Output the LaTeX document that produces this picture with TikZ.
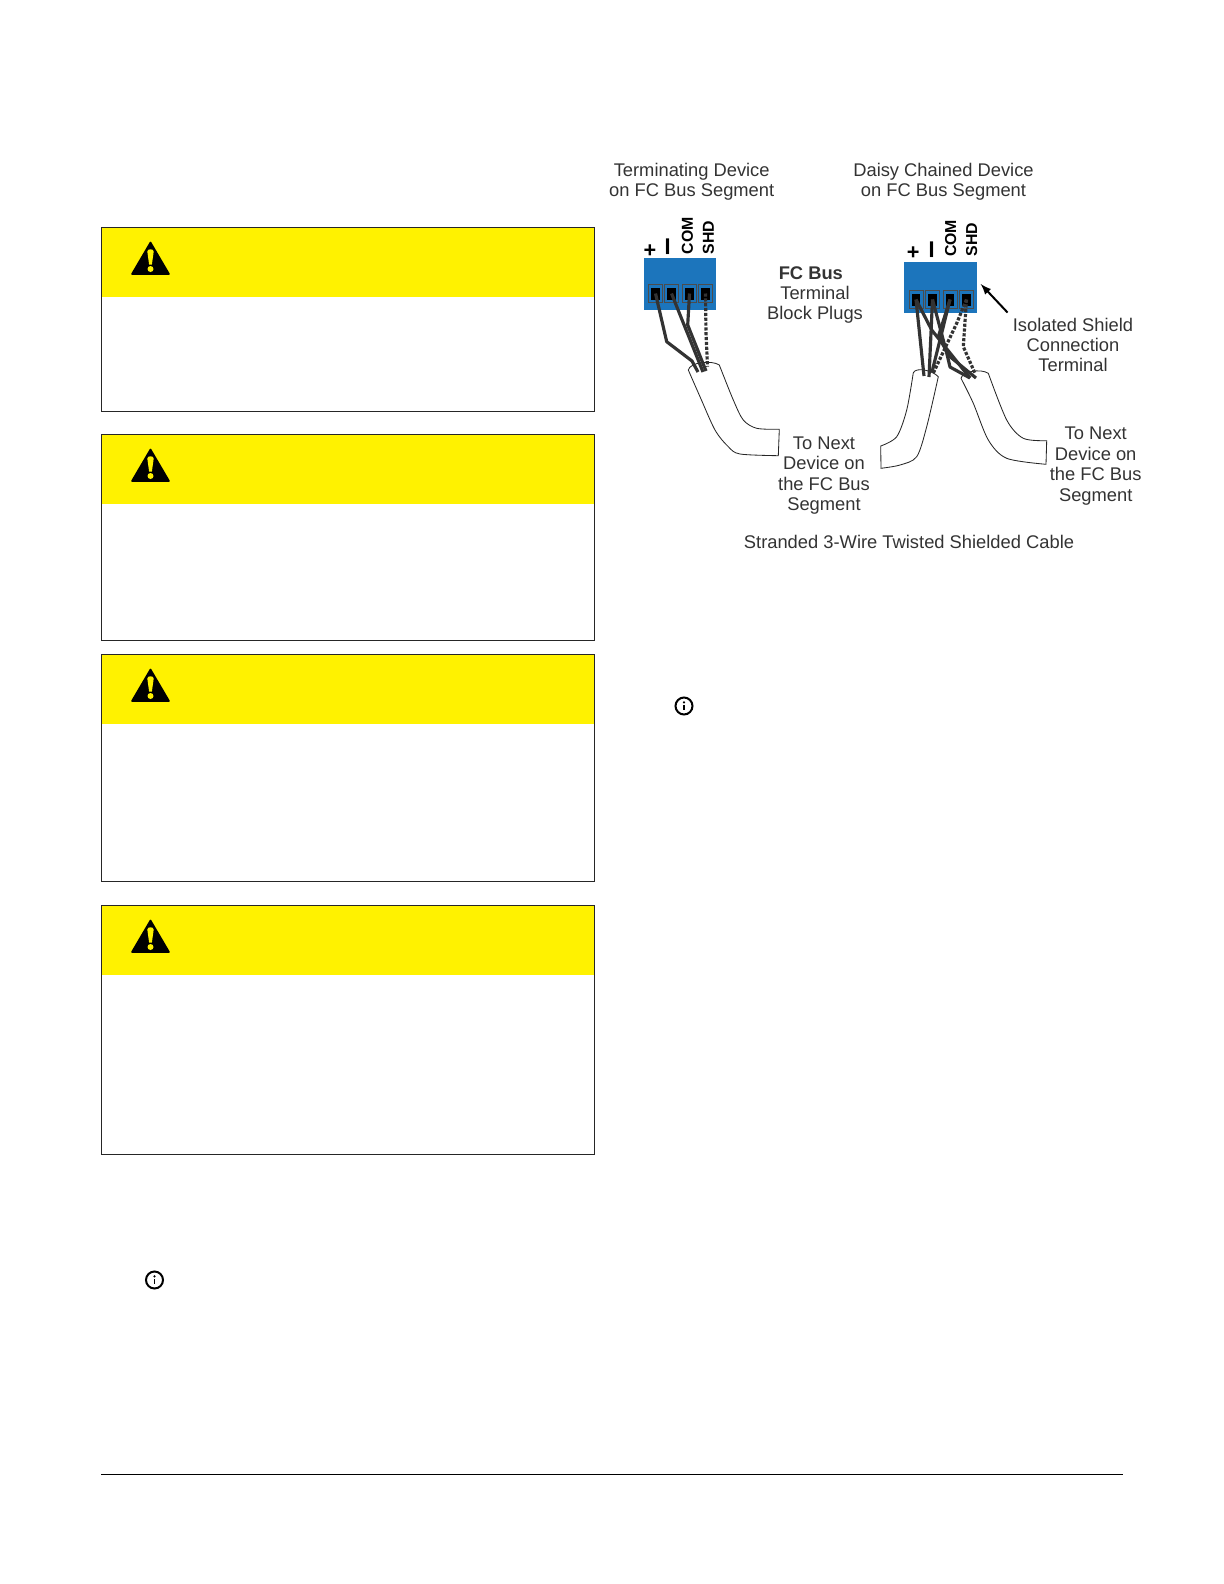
\documentclass[tikz,border=0pt]{standalone}
\usepackage{fontspec}
\setmainfont{Liberation Sans}
\usetikzlibrary{arrows.meta}
\definecolor{warnyellow}{HTML}{FFF200}
\definecolor{blockblue}{HTML}{1C75BC}
\definecolor{wiregray}{HTML}{333333}
\tikzset{
	panel/.style={draw=black!85, line width=0.6pt},
	label/.style={align=center, inner sep=0pt, font=\fontsize{11}{12.25}\selectfont, text=black!80},
	pinlabel/.style={inner sep=0pt, rotate=90, font=\fontsize{9.5}{11}\selectfont\bfseries},
	socket/.style={draw=black!70, fill=blockblue, line width=0.4pt, minimum width=8.4pt, minimum height=11pt, inner sep=0pt, path picture={\fill[black] ([xshift=1.6pt,yshift=1.4pt]path picture bounding box.south west) rectangle ([xshift=-1.6pt,yshift=-2.2pt]path picture bounding box.north east);}},
	wire/.style={draw=wiregray, line width=1.9pt, line join=round},
	shield/.style={draw=wiregray, line width=1.9pt, densely dotted},
	cable/.style={draw=black!85, fill=white, line width=0.5pt},
	warnsign/.pic={
		\fill[black, line join=round, draw=black, line width=1pt] (-18.5,15.5) -- (0,-16) -- (18.5,15.5) -- cycle;
		\fill[warnyellow] (-3.2,-7) .. controls (-3.2,-10) and (3.2,-10) .. (3.2,-7) -- (1.4,6) -- (-1.4,6) -- cycle;
		\fill[warnyellow] (0,10.5) circle (3);
	},
	infosign/.pic={
		\draw[black, line width=1.2pt] (0,0) circle (8.5);
		\fill[black] (0,-3.6) circle (1.2);
		\draw[black, line width=1.1pt] (0,-1) -- (0,4.4);
	}
}
\begin{document}
\begin{tikzpicture}[x=0.6pt, y=-0.6pt]
		\useasboundingbox (0,0) rectangle (1224,1584);
		% warning panels
		\fill[warnyellow] (101,227) rectangle (594.5,297);
		\draw[panel] (101,227) rectangle (594.5,411);
		\fill[warnyellow] (101,434) rectangle (594.5,504);
		\draw[panel] (101,434) rectangle (594.5,640);
		\fill[warnyellow] (101,654) rectangle (594.5,724);
		\draw[panel] (101,654) rectangle (594.5,881);
		\fill[warnyellow] (101,905) rectangle (594.5,975);
		\draw[panel] (101,905) rectangle (594.5,1154);
		\pic at (150.5,258.5) {warnsign};
		\pic at (150.5,465.5) {warnsign};
		\pic at (150.5,685.5) {warnsign};
		\pic at (150.5,936.5) {warnsign};
		\pic at (684,706) {infosign};
		\pic at (154.5,1280) {infosign};
		\draw[black, line width=0.6pt] (101,1474.5) -- (1123,1474.5);

		% terminal blocks
		\fill[blockblue] (644,258) rectangle (716,310);
		\fill[blockblue] (904,262) rectangle (977,313);
		\node[socket] (plusL) at (655.5,293.5) {};
		\node[socket] (minusL) at (671.5,293.5) {};
		\node[socket] (comL) at (689.5,293.5) {};
		\node[socket] (shdL) at (705.5,293.5) {};
		\node[socket] (plusR) at (916,299.5) {};
		\node[socket] (minusR) at (932.5,299.5) {};
		\node[socket] (comR) at (950,299.5) {};
		\node[socket] (shdR) at (966.5,299.5) {};

		% cables
		\draw[cable] plot[smooth] coordinates {(688.3,370) (700,396.7) (715,430) (728.3,446.7) (740,454) (778.3,455.7)} -- (779.3,429.3) -- plot[smooth] coordinates {(779.3,429.3) (756.7,428.3) (743.3,420) (733.3,400) (719.3,365)} .. controls (712,360) and (690,362) .. (688.3,370);
		\draw[cable] plot[smooth] coordinates {(913.3,372.7) (906.7,410) (896.7,436.7) (880.7,446)} -- (881,468.3) -- plot[smooth] coordinates {(881,468.3) (900,465) (916.7,456.7) (926.7,426.7) (938.3,376.7)} .. controls (932,370) and (916,367) .. (913.3,372.7);
		\draw[cable] plot[smooth] coordinates {(961,378.3) (973.3,403.3) (988.3,440) (1006.7,458.3) (1046,464.3)} -- (1046.7,440.7) -- plot[smooth] coordinates {(1046.7,440.7) (1023.3,438.3) (1006.7,420) (988.3,373.3)} .. controls (980,368) and (962,372) .. (961,378.3);
		\coordinate (cableL) at (698,372);
		\coordinate (cableL2) at (703,372);
		\coordinate (cableA) at (924,376);
		\coordinate (cableA2) at (929,377);
		\coordinate (cableB) at (970,378);
		\coordinate (cableB2) at (976,378);

		% wires, terminating device
		\draw[wire] (plusL.center) -- (666.7,341.7) -- (692,361) -- (cableL);
		\draw[wire] (minusL.center) -- (cableL2);
		\draw[wire] (comL.center) -- (687.7,325) -- (706,371);
		\draw[shield] (shdL.center) -- (706,333) -- (707.5,366.7);

		% wires, daisy chained device
		\draw[wire] (plusR.center) -- (cableA);
		\draw[wire] (plusR.center) -- (931.7,330) -- (cableB);
		\draw[wire] (minusR.center) -- (cableA2);
		\draw[wire] (minusR.center) -- (946.7,353) -- (950,367) -- (cableB);
		\draw[wire] (comR.center) -- (932,372);
		\draw[wire] (comR.center) -- (938.3,336.7) -- (950,356.7) -- (cableB2);
		\draw[shield] (shdR.center) -- (956.7,323.3) -- (933.3,373);
		\draw[shield] (shdR.center) -- (963.3,346.7) -- (975,373.3);

		% pin labels
		\node[pinlabel, rotate=-90, font=\fontsize{13}{13}\selectfont\bfseries] (plusTextL) at (650,251) {+};
		\node[pinlabel] (minusTextL) at (671,246.5) {\fontsize{19}{19}\selectfont –};
		\node[pinlabel] (comTextL) at (687.3,235.7) {COM};
		\node[pinlabel] (shdTextL) at (708.3,237.3) {SHD};
		\node[pinlabel, rotate=-90, font=\fontsize{13}{13}\selectfont\bfseries] (plusTextR) at (913.3,253) {+};
		\node[pinlabel] (minusTextR) at (935,249.5) {\fontsize{19}{19}\selectfont –};
		\node[pinlabel] (comTextR) at (950.7,238.3) {COM};
		\node[pinlabel] (shdTextR) at (971.7,239.3) {SHD};

		% captions
		\node[label] (termCaption) at (691.7,182) {Terminating Device\\on FC Bus Segment};
		\node[label] (daisyCaption) at (943.5,181.5) {Daisy Chained Device\\on FC Bus Segment};
		\node[label] (plugCaption) at (815,295) {\textbf{FC Bus}\hspace*{5pt}\\Terminal\\Block Plugs};
		\node[label] (nextL) at (824,475.5) {To Next\\Device on\\the FC Bus\\Segment};
		\node[label] (nextR) at (1095.7,466) {To Next\\Device on\\the FC Bus\\Segment};
		\node[label] (shieldCaption) at (1073,345) {Isolated Shield\\Connection\\Terminal};
		\node[label] (cableCaption) at (909,542.3) {Stranded 3-Wire Twisted Shielded Cable};
		\coordinate (shieldEnd) at (980.7,284);
		\draw[line width=1.2pt, -latex] (shieldCaption.north west) ++(-5,-5) -- (shieldEnd);

	\end{tikzpicture}
\end{document}
